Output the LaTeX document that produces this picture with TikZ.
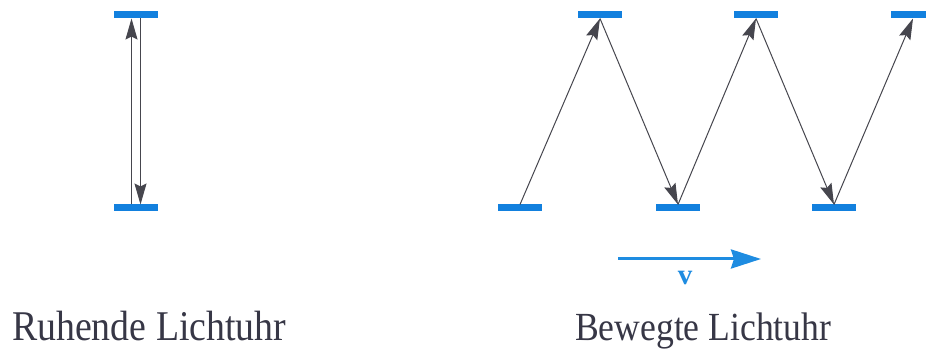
\documentclass[tikz,border=0pt]{standalone}
\usepackage{fontspec}
\setmainfont{Liberation Serif}
\usetikzlibrary{arrows.meta}
\definecolor{mirrorblue}{RGB}{18,128,222}
\definecolor{velblue}{RGB}{30,140,225}
\definecolor{raygray}{RGB}{70,70,78}
\definecolor{textgray}{RGB}{55,55,70}
\tikzset{
  mirror/.style={fill=mirrorblue, draw=none, minimum width=44pt, minimum height=7pt, inner sep=0pt, outer sep=0pt},
  ray/.style={draw=raygray, line width=1pt, -{Stealth[length=21pt,width=12pt,inset=3pt]}},
  vel/.style={draw=velblue, line width=3pt, -{Stealth[length=30pt,width=19pt,inset=3pt]}},
  caption/.style={text=textgray, inner sep=0pt, anchor=base west},
}
\begin{document}
\begin{tikzpicture}[x=1pt,y=-1pt]
\useasboundingbox (0,0) rectangle (926,352);
\fill[white] (0,0) rectangle (926,352);
% resting clock
\node[mirror] (Lt) at (136,15) {};
\node[mirror] (Lb) at (136,208) {};
\draw[ray] ([xshift=-4.5pt]Lb.north) -- ([xshift=-4.5pt]Lt.south);
\draw[ray] ([xshift=4.5pt]Lt.south) -- ([xshift=4.5pt]Lb.north);
% moving clock
\node[mirror] (b1) at (520,208) {};
\node[mirror] (t1) at (600,15) {};
\node[mirror] (b2) at (678,208) {};
\node[mirror] (t2) at (756,15) {};
\node[mirror] (b3) at (834,208) {};
\node[mirror] (t3) at (913,15) {};
\draw[ray] (b1.north) -- (t1.south);
\draw[ray] (t1.south) -- (b2.north);
\draw[ray] (b2.north) -- (t2.south);
\draw[ray] (t2.south) -- (b3.north);
\draw[ray] (b3.north) -- (t3.south);
% velocity
\coordinate (v0) at (618,259);
\coordinate (v1) at (761,259);
\draw[vel] (v0) -- (v1);
\node[text=velblue, inner sep=0pt, anchor=base, font=\fontsize{29}{30}\selectfont\bfseries] (vl) at (685,285) {v};
% captions
\node[caption] (c1) at (12,341) {\scalebox{1}[1.12]{\fontsize{37.8}{40}\selectfont Ruhende Lichtuhr}};
\node[caption] (c2) at (575,341) {\scalebox{1}[1.12]{\fontsize{35.6}{40}\selectfont Bewegte Lichtuhr}};
\end{tikzpicture}
\end{document}
